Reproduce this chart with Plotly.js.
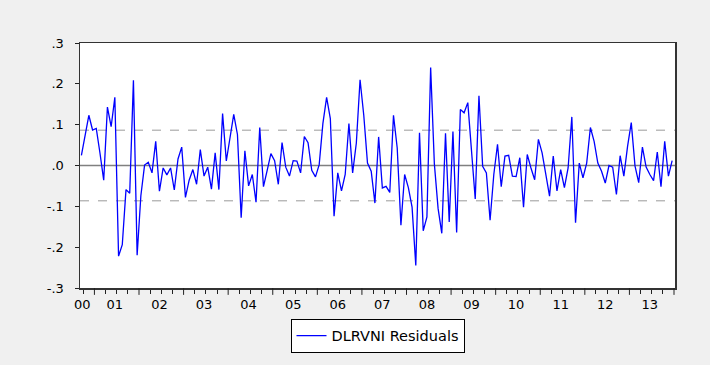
<!DOCTYPE html>
<html>
<head>
<meta charset="utf-8">
<script src="https://cdn.plot.ly/plotly-3.0.1.min.js"></script>
<style>
  html, body { margin: 0; padding: 0; background: #f0f0f0; }
  #chart { width: 710px; height: 365px; }
</style>
</head>
<body>
<div id="chart"></div>
<script>
// Monthly residuals, 2000M09 .. 2013M12
const startYear = 2000;
const startMonth = 9;
const residuals = [
  0.025, 0.074, 0.123, 0.087, 0.091, 0.030, -0.036, 0.143, 0.095, 0.167,
  -0.222, -0.194, -0.059, -0.068, 0.209, -0.220, -0.074, 0.001, 0.008, -0.018,
  0.059, -0.063, -0.006, -0.023, -0.006, -0.060, 0.016, 0.045, -0.078, -0.036,
  -0.010, -0.046, 0.039, -0.026, -0.004, -0.058, 0.031, -0.059, 0.127, 0.011,
  0.067, 0.125, 0.076, -0.128, 0.036, -0.050, -0.022, -0.090, 0.093, -0.052,
  -0.012, 0.029, 0.012, -0.046, 0.056, -0.004, -0.026, 0.012, 0.011, -0.018,
  0.071, 0.056, -0.012, -0.028, 0.002, 0.103, 0.167, 0.115, -0.124, -0.018,
  -0.062, -0.022, 0.103, -0.018, 0.055, 0.210, 0.123, 0.006, -0.014, -0.092,
  0.070, -0.055, -0.051, -0.066, 0.123, 0.043, -0.146, -0.022, -0.054, -0.102,
  -0.245, 0.080, -0.160, -0.126, 0.240, 0.004, -0.105, -0.166, 0.079, -0.138,
  0.083, -0.164, 0.137, 0.129, 0.154, 0.043, -0.082, 0.171, -0.002, -0.018,
  -0.134, -0.022, 0.052, -0.052, 0.023, 0.025, -0.026, -0.027, 0.019, -0.102,
  0.027, -0.006, -0.035, 0.064, 0.031, -0.022, -0.075, 0.023, -0.062, -0.010,
  -0.054, -0.006, 0.119, -0.140, 0.006, -0.030, 0.006, 0.093, 0.059, 0.006,
  -0.014, -0.043, 0.000, -0.004, -0.071, 0.024, -0.026, 0.047, 0.105, -0.001,
  -0.042, 0.045, -0.004, -0.022, -0.037, 0.033, -0.052, 0.059, -0.026, 0.012
];
const yearLabels = ['00','01','02','03','04','05','06','07','08','09','10','11','12','13'];
const yTickValues = [-0.3, -0.2, -0.1, 0, 0.1, 0.2, 0.3];
const yTickLabels = ['-.3', '-.2', '-.1', '.0', '.1', '.2', '.3'];
const bandLevel = 0.0865;
const seriesName = 'DLRVNI Residuals';

// observation index (1 = first month)
const xIdx = residuals.map((_, i) => i + 1);

// quarter and year boundaries in index units
const quarterBounds = [];
const yearBounds = [];
for (let i = 0; i <= residuals.length; i++) {
  const m = (startMonth - 1 + i) % 12;
  if (m % 3 === 0) {
    if (m === 0) yearBounds.push(i + 0.5); else quarterBounds.push(i + 0.5);
  }
}
const labelPos = yearLabels.map((lab, k) => (k === 0 ? 1.2 : yearBounds[k - 1] + 5.5));

const shapes = [
  { type: 'line', xref: 'paper', yref: 'y', x0: 0, x1: 1, y0: bandLevel, y1: bandLevel,
    line: { color: '#9a9a9a', width: 1, dash: 'dash' }, layer: 'below' },
  { type: 'line', xref: 'paper', yref: 'y', x0: 0, x1: 1, y0: -bandLevel, y1: -bandLevel,
    line: { color: '#9a9a9a', width: 1, dash: 'dash' }, layer: 'below' },
  { type: 'line', xref: 'paper', yref: 'y', x0: 0, x1: 1, y0: 0, y1: 0,
    line: { color: '#808080', width: 1.5 }, layer: 'below' }
];
yearBounds.forEach(b => {
  shapes.push({ type: 'line', xref: 'x', yref: 'paper', x0: b, x1: b, y0: 0, y1: -0.028,
    line: { color: '#222', width: 1 } });
});

const trace = {
  x: xIdx, y: residuals, type: 'scatter', mode: 'lines', name: seriesName,
  line: { color: '#0000ff', width: 1.3 }, showlegend: true
};

const layout = {
  width: 710, height: 365,
  margin: { l: 80, r: 35, t: 43, b: 73 },
  paper_bgcolor: '#f0f0f0',
  plot_bgcolor: '#ffffff',
  font: { family: 'DejaVu Sans, sans-serif', size: 13, color: '#000' },
  showlegend: true,
  legend: {
    orientation: 'h', x: 0.5, xanchor: 'center', y: -0.125, yanchor: 'top',
    bgcolor: '#ffffff', bordercolor: '#000000', borderwidth: 1,
    font: { size: 14.5 }, itemwidth: 30
  },
  xaxis: {
    range: [0.62, 160.77],
    tickmode: 'array', tickvals: labelPos, ticktext: yearLabels,
    ticks: '', showgrid: false, zeroline: false,
    showline: true, mirror: true, linecolor: '#333', linewidth: 1.5,
    tickfont: { size: 13 }, ticklabelstandoff: 4,
    minor: { tickmode: 'array', tickvals: quarterBounds, ticks: 'outside',
             ticklen: 4, tickcolor: '#222', tickwidth: 1, showgrid: false }
  },
  yaxis: {
    range: [-0.3, 0.3],
    tickmode: 'array', tickvals: yTickValues, ticktext: yTickLabels,
    ticks: 'outside', ticklen: 4, tickcolor: '#222',
    showgrid: false, zeroline: false,
    showline: true, mirror: true, linecolor: '#333', linewidth: 1.5,
    tickfont: { size: 13 }, ticklabelstandoff: 8
  },
  shapes: shapes
};

Plotly.newPlot('chart', [trace], layout, { displayModeBar: false, staticPlot: true });
</script>
</body>
</html>
